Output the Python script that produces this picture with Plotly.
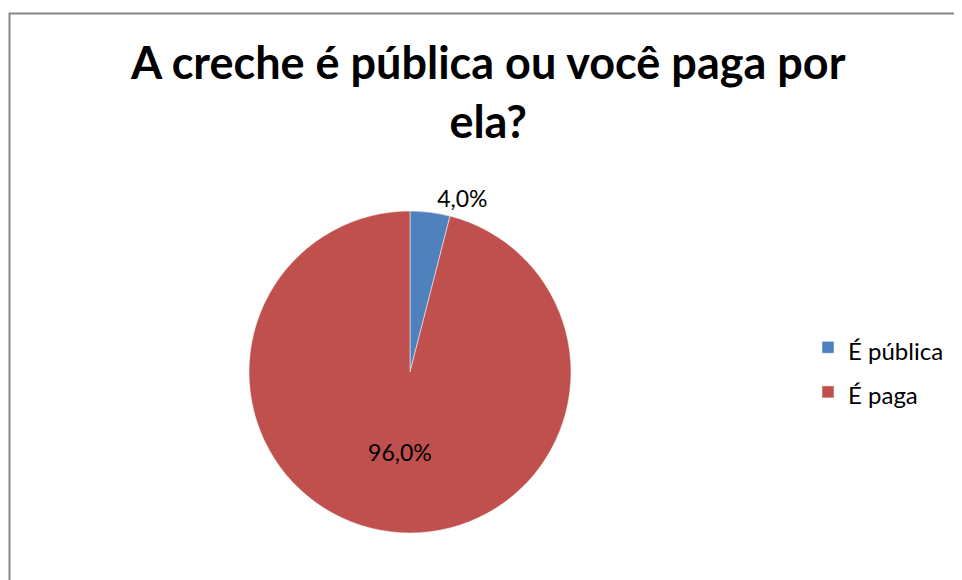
import plotly.graph_objects as go

categories = ["É pública", "É paga"]
values = [4.0, 96.0]
value_labels = ["4,0%", "96,0%"]
colors = ["#4F81BD", "#C0504D"]
title_text = "A creche é pública ou você paga por<br>ela?"

W, H = 962, 580
OFF = 8  # default page body margin
cx, cy, r = 410 - OFF, 372 - OFF, 161

legend_labels = ['<span style="font-size:24px">' + c + '</span>' for c in categories]

fig = go.Figure(go.Pie(
    labels=legend_labels,
    values=values,
    text=value_labels,
    textinfo="text",
    textposition=["outside", "inside"],
    insidetextorientation="horizontal",
    outsidetextfont=dict(color="black", size=23, family="Lato"),
    insidetextfont=dict(color="black", size=23, family="Lato"),
    marker=dict(colors=colors, line=dict(color="white", width=0.5)),
    sort=False,
    direction="clockwise",
    rotation=0,
    showlegend=True,
    hoverinfo="none",
    domain=dict(x=[(cx - r) / W, (cx + r) / W], y=[1 - (cy + r) / H, 1 - (cy - r) / H]),
))

fig.update_layout(
    width=W, height=H,
    margin=dict(l=0, r=0, t=0, b=0),
    paper_bgcolor="white",
    plot_bgcolor="white",
    font=dict(family="Lato", color="black"),
    annotations=[dict(text="<b>" + title_text + "</b>", xref="paper", yref="paper",
                      x=(488 - OFF) / W, xanchor="center", y=1 - 25 / H, yanchor="top",
                      showarrow=False, align="center",
                      font=dict(size=45, family="Lato", color="black"))],
    legend=dict(x=800 / W, xanchor="left", y=1 - 362 / H, yanchor="middle",
                font=dict(size=32, family="Lato", color="black"),
                bgcolor="rgba(0,0,0,0)"),
    shapes=[dict(type="rect", xref="paper", yref="paper",
                 x0=(9.5 - OFF) / W, x1=1.2, y0=-0.2, y1=1 - (13.5 - OFF) / H,
                 line=dict(color="#868686", width=2))],
)

fig.write_html("out.html")
